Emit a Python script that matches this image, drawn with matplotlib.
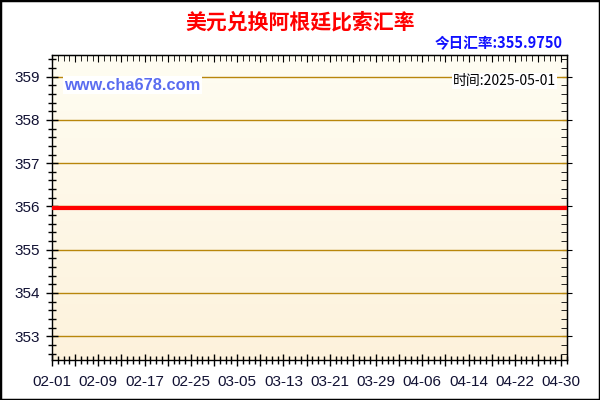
import matplotlib
matplotlib.use('Agg')
import matplotlib.pyplot as plt
import numpy as np
import pandas as pd
from matplotlib.patches import Rectangle
from matplotlib.ticker import FixedLocator, MultipleLocator

plt.rcParams['font.family'] = ['Liberation Sans', 'Noto Sans CJK SC', 'DejaVu Sans']
plt.rcParams['axes.unicode_minus'] = False

# 数据：2025-02-01 ~ 2025-05-01 每日汇率（图上几乎是一条平线）
dates = pd.date_range('2025-02-01', '2025-05-01', freq='D')
rates = [
    355.975, 355.975, 355.975, 355.975, 355.975, 355.975, 355.975, 355.975, 355.975, 355.975,
    355.975, 355.975, 355.975, 355.975, 355.975, 355.975, 355.975, 355.975, 355.975, 355.975,
    355.975, 355.975, 355.975, 355.975, 355.975, 355.975, 355.975, 355.975, 355.975, 355.975,
    355.975, 355.975, 355.975, 355.975, 355.975, 355.975, 355.975, 355.975, 355.975, 355.975,
    355.975, 355.975, 355.975, 355.975, 355.975, 355.975, 355.975, 355.975, 355.975, 355.975,
    355.975, 355.975, 355.975, 355.975, 355.975, 355.975, 355.975, 355.975, 355.975, 355.975,
    355.975, 355.975, 355.975, 355.975, 355.975, 355.975, 355.975, 355.975, 355.975, 355.975,
    355.975, 355.975, 355.975, 355.975, 355.975, 355.975, 355.975, 355.975, 355.975, 355.975,
    355.975, 355.975, 355.975, 355.975, 355.975, 355.975, 355.975, 355.975, 355.975, 355.975,
]
yticks = [353, 354, 355, 356, 357, 358, 359]
title = '美元兑换阿根廷比索汇率'
today_text = '今日汇率:355.9750'
site_text = 'www.cha678.com'
time_text = '时间:2025-05-01'

x = np.arange(len(dates))

fig = plt.figure(figsize=(6, 4), dpi=100)
fig.patch.set_facecolor('white')
ax = fig.add_axes([52 / 600, 40 / 400, 515 / 600, 305 / 400])

# 背景渐变（上浅下黄）
grad = np.linspace(0, 1, 256).reshape(-1, 1)
top_c = np.array([255, 253, 242]) / 255
bot_c = np.array([253, 242, 220]) / 255
img = top_c + (bot_c - top_c) * grad[..., None]
ax.imshow(img, extent=[0, 1, 0, 1], transform=ax.transAxes, aspect='auto', zorder=0)

for yv in yticks:
    ax.axhline(yv, color='#b8860b', linewidth=1, zorder=1)

ax.plot(x, rates, color='#ff0000', linewidth=3, zorder=3)

ax.set_xlim(0, len(dates) - 1)
ax.set_ylim(352.45, 359.5)

# x 轴刻度：每4天长刻度，每8天标签，每天短刻度
major_pos = list(range(0, len(dates) - 1, 4))
major_lab = [dates[i].strftime('%m-%d') if i % 8 == 0 else '' for i in major_pos]
ax.xaxis.set_major_locator(FixedLocator(major_pos))
ax.set_xticklabels(major_lab)
ax.xaxis.set_minor_locator(MultipleLocator(1))
ax.yaxis.set_major_locator(FixedLocator(yticks))
ax.yaxis.set_minor_locator(MultipleLocator(0.2))

ax.tick_params(axis='both', which='major', direction='inout', length=9, width=1,
               labelsize=11, colors='black', labelcolor='#111133')
ax.tick_params(axis='both', which='minor', direction='inout', length=6, width=1)
ax.tick_params(axis='x', which='major', pad=6)
ax.tick_params(axis='y', which='major', pad=4)

for sp in ['top', 'right']:
    ax.spines[sp].set_visible(True)
for sp in ax.spines.values():
    sp.set_linewidth(1)
    sp.set_color('black')

# 顶部和右侧只画向内的刻度
ax_top = ax.secondary_xaxis('top')
ax_top.xaxis.set_major_locator(FixedLocator(major_pos))
ax_top.xaxis.set_minor_locator(MultipleLocator(1))
ax_top.tick_params(which='major', direction='in', length=5, labeltop=False)
ax_top.tick_params(which='minor', direction='in', length=4)
ax_top.set_xticklabels([])
ax_right = ax.secondary_yaxis('right')
ax_right.yaxis.set_major_locator(FixedLocator(yticks))
ax_right.yaxis.set_minor_locator(MultipleLocator(0.2))
ax_right.tick_params(which='major', direction='inout', length=7, labelright=False)
ax_right.tick_params(which='minor', direction='in', length=4)
ax_right.set_yticklabels([])

# 文字
fig.text(0.5, 1 - 22 / 400, title, color='#ff0000', fontsize=15, fontweight='bold',
         ha='center', va='center', family=['Noto Sans CJK SC'])
fig.text(563 / 600, 1 - 43 / 400, today_text, color='#1010ff', fontsize=10.5,
         fontweight='bold', ha='right', va='center', family=['Noto Sans CJK SC', 'DejaVu Sans'])
ax.text(64 / 600, 1 - 85 / 400, site_text, transform=fig.transFigure, color='#5a6cf0',
        fontsize=11.8, fontweight='bold', ha='left', va='center', zorder=5,
        bbox=dict(facecolor='white', edgecolor='none', pad=1))
ax.text(556 / 600, 1 - 81 / 400, time_text, transform=fig.transFigure, color='black',
        fontsize=10, ha='right', va='center', zorder=5, family=['Noto Sans CJK SC', 'DejaVu Sans'],
        bbox=dict(facecolor='white', edgecolor='none', pad=0.5))

# 外边框
fig.patches.append(Rectangle((0, 0), 1, 1, transform=fig.transFigure, fill=False,
                             edgecolor='black', linewidth=2.5))

fig.savefig('out.png', dpi=100)
